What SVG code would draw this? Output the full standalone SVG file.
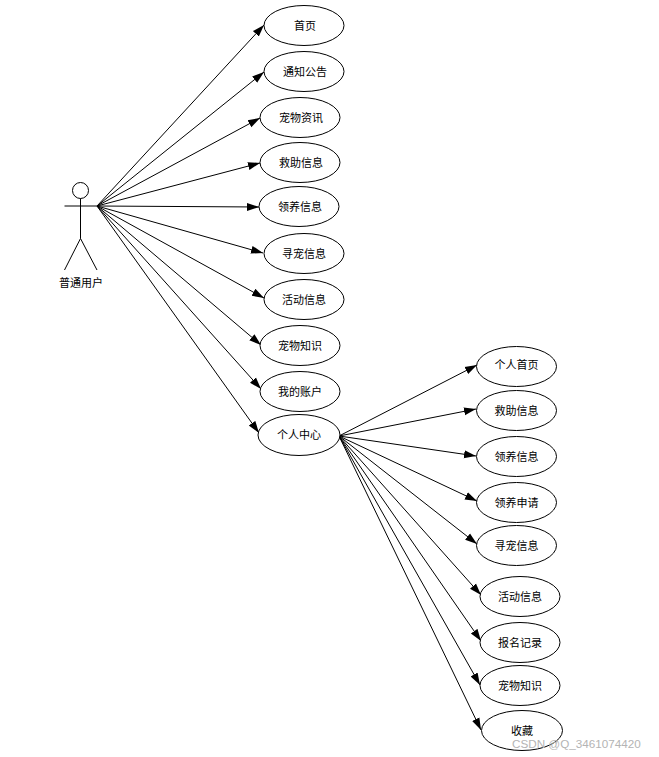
<svg xmlns="http://www.w3.org/2000/svg" width="659" height="757" viewBox="0 0 659 757">
<style>
.n ellipse{fill:#fff;stroke:#000;stroke-width:1}
.n text,.a text{font-family:"Noto Sans CJK SC","Liberation Sans",sans-serif;font-size:11px;fill:#000;text-anchor:middle}
.c line{stroke:#000;stroke-width:1;marker-end:url(#ah)}
.a line,.a circle{fill:#fff;stroke:#000;stroke-width:1}
.w{font-family:"Liberation Sans",Arial,sans-serif;font-size:11.7px;fill:#b4b4b4}
</style>
<defs><marker id="ah" markerUnits="userSpaceOnUse" markerWidth="13" markerHeight="10" refX="12" refY="5" orient="auto"><path d="M0 1L12 5L0 9Z" fill="#000"/></marker></defs>
<rect width="659" height="757" fill="#fff"/>
<g id="connectors" class="c">
<line x1="97" y1="206" x2="264" y2="25"/>
<line x1="97" y1="206" x2="264" y2="72"/>
<line x1="97" y1="206" x2="260" y2="118"/>
<line x1="97" y1="206" x2="260" y2="163"/>
<line x1="97" y1="206" x2="259" y2="207"/>
<line x1="97" y1="206" x2="263" y2="253"/>
<line x1="97" y1="206" x2="264" y2="298"/>
<line x1="97" y1="206" x2="261" y2="345"/>
<line x1="97" y1="206" x2="261" y2="389"/>
<line x1="97" y1="206" x2="259" y2="433"/>
<line x1="339" y1="436" x2="477" y2="365"/>
<line x1="339" y1="436" x2="476" y2="409"/>
<line x1="339" y1="436" x2="476" y2="456"/>
<line x1="339" y1="436" x2="477" y2="501"/>
<line x1="339" y1="436" x2="477" y2="544"/>
<line x1="339" y1="436" x2="481" y2="595"/>
<line x1="339" y1="436" x2="481" y2="641"/>
<line x1="339" y1="436" x2="480" y2="685"/>
<line x1="339" y1="436" x2="481" y2="730"/>
</g>
<g id="actor" class="a">
<circle cx="80.500" cy="190.500" r="8"/>
<line x1="80.500" y1="198.500" x2="80.500" y2="238.500"/>
<line x1="64.500" y1="206" x2="97" y2="206"/>
<line x1="80.500" y1="238.500" x2="64.500" y2="270"/>
<line x1="80.500" y1="238.500" x2="97" y2="270"/>
<text x="81" y="287">普通用户</text>
</g>
<g id="n1" class="n"><ellipse cx="304" cy="25.500" rx="40" ry="20"/><text x="305" y="30">首页</text></g>
<g id="n2" class="n"><ellipse cx="304" cy="71.500" rx="40" ry="20"/><text x="305" y="76">通知公告</text></g>
<g id="n3" class="n"><ellipse cx="300" cy="117.500" rx="40" ry="20"/><text x="301" y="122">宠物资讯</text></g>
<g id="n4" class="n"><ellipse cx="300" cy="162.500" rx="40" ry="20"/><text x="301" y="167">救助信息</text></g>
<g id="n5" class="n"><ellipse cx="299" cy="206.500" rx="40" ry="20"/><text x="300" y="211">领养信息</text></g>
<g id="n6" class="n"><ellipse cx="304" cy="253.500" rx="40" ry="20"/><text x="304" y="258">寻宠信息</text></g>
<g id="n7" class="n"><ellipse cx="304" cy="299.500" rx="40" ry="20"/><text x="304" y="304">活动信息</text></g>
<g id="n8" class="n"><ellipse cx="300" cy="345.500" rx="40" ry="20"/><text x="300" y="350">宠物知识</text></g>
<g id="n9" class="n"><ellipse cx="300" cy="391.500" rx="40" ry="20"/><text x="300" y="396">我的账户</text></g>
<g id="n10" class="n"><ellipse cx="299" cy="435" rx="41" ry="20.500"/><text x="299" y="439">个人中心</text></g>
<g id="m1" class="n"><ellipse cx="516.500" cy="366.500" rx="40" ry="20"/><text x="516.500" y="369">个人首页</text></g>
<g id="m2" class="n"><ellipse cx="516.500" cy="410.500" rx="40" ry="20"/><text x="516.500" y="415">救助信息</text></g>
<g id="m3" class="n"><ellipse cx="516.500" cy="456.500" rx="40" ry="20"/><text x="516.500" y="461">领养信息</text></g>
<g id="m4" class="n"><ellipse cx="516.500" cy="502.500" rx="40" ry="20"/><text x="516.500" y="507">领养申请</text></g>
<g id="m5" class="n"><ellipse cx="516.500" cy="545.500" rx="40" ry="20"/><text x="516.500" y="550">寻宠信息</text></g>
<g id="m6" class="n"><ellipse cx="520" cy="596.500" rx="40" ry="20"/><text x="520" y="601">活动信息</text></g>
<g id="m7" class="n"><ellipse cx="520" cy="642.500" rx="40" ry="20"/><text x="520" y="647">报名记录</text></g>
<g id="m8" class="n"><ellipse cx="520" cy="685.500" rx="40" ry="20"/><text x="520" y="690">宠物知识</text></g>
<g id="m9" class="n"><ellipse cx="522" cy="730.500" rx="40.500" ry="20"/><text x="522" y="735">收藏</text></g>
<text class="w" x="512" y="748">CSDN @Q_3461074420</text>
</svg>
